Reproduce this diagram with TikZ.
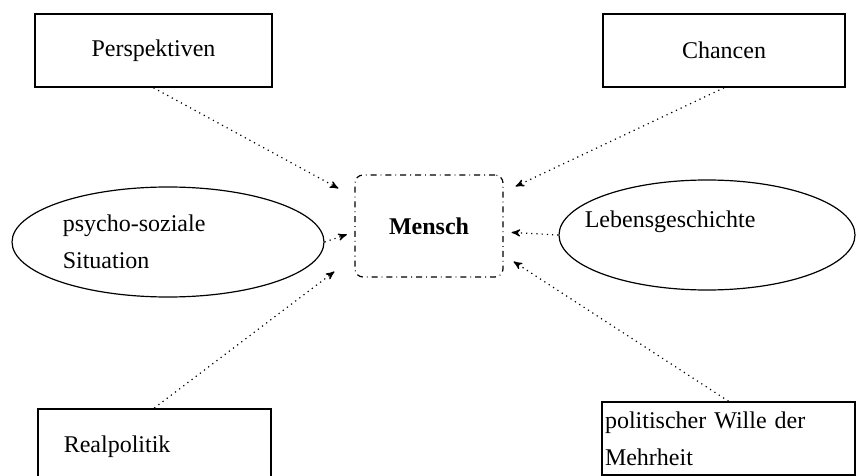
\documentclass[tikz,border=0pt]{standalone}
\usepackage{fontspec}
\setmainfont{Liberation Serif}
\usetikzlibrary{arrows, shapes.geometric}

\begin{document}
\begin{tikzpicture}[x=0.5pt, y=-0.5pt, >=stealth', font=\fontsize{12}{18.5}\selectfont,
	box/.style={draw, line width=0.8pt, minimum height=36.5pt},
	oval/.style={draw, ellipse, line width=0.6pt, minimum height=55pt},
	every edge/.style={draw, ->, dotted, line width=0.6pt}]
		
		\clip (0,0) rectangle (857,476);
		
		\node (1) [draw, rounded corners=4pt, dash dot, line width=0.6pt, minimum width=74pt, minimum height=51pt, font=\fontsize{12}{14}\selectfont\bfseries] at (429,226) {Mensch};
		\node (2) [box, minimum width=118.5pt] at (153.5,50.5) {Perspektiven};
		\node (3) [box, minimum width=121pt] at (724,50.5) {Chancen};
		\node (4) [box, anchor=north west, minimum width=116.5pt, minimum height=38pt, align=left, text width=90.5pt, inner xsep=13pt] at (37,408) {Realpolitik};
		\node (5) [box, minimum width=126.5pt, align=left, text width=123.5pt, inner xsep=1.5pt, inner ysep=0pt] at (728.5,438.5) {politischer Wille der\\Mehrheit};
		\node (6) [oval, minimum width=156pt, label={[anchor=west, inner sep=0pt, xshift=25.5pt, align=left]west:psycho-soziale\\Situation}] at (168,242) {};
		\node (7) [oval, minimum width=148pt, label={[anchor=west, inner sep=0pt, xshift=13pt, yshift=6.5pt]west:Lebensgeschichte}] at (707,235) {};
		
		\path
		(2.south) edge ([xshift=-8pt, yshift=-7pt]1.north west)
		(3.south) edge ([xshift=6pt, yshift=-6pt]1.north east)
		(4.north) edge ([xshift=-10pt, yshift=3pt]1.south west)
		(5.north) edge ([xshift=5pt, yshift=8pt]1.south east)
		(6.east) edge [shorten >=4pt] ([yshift=-3pt]1.west)
		(7.west) edge [shorten >=4pt] ([yshift=-3pt]1.east);
		
\end{tikzpicture}
\end{document}
